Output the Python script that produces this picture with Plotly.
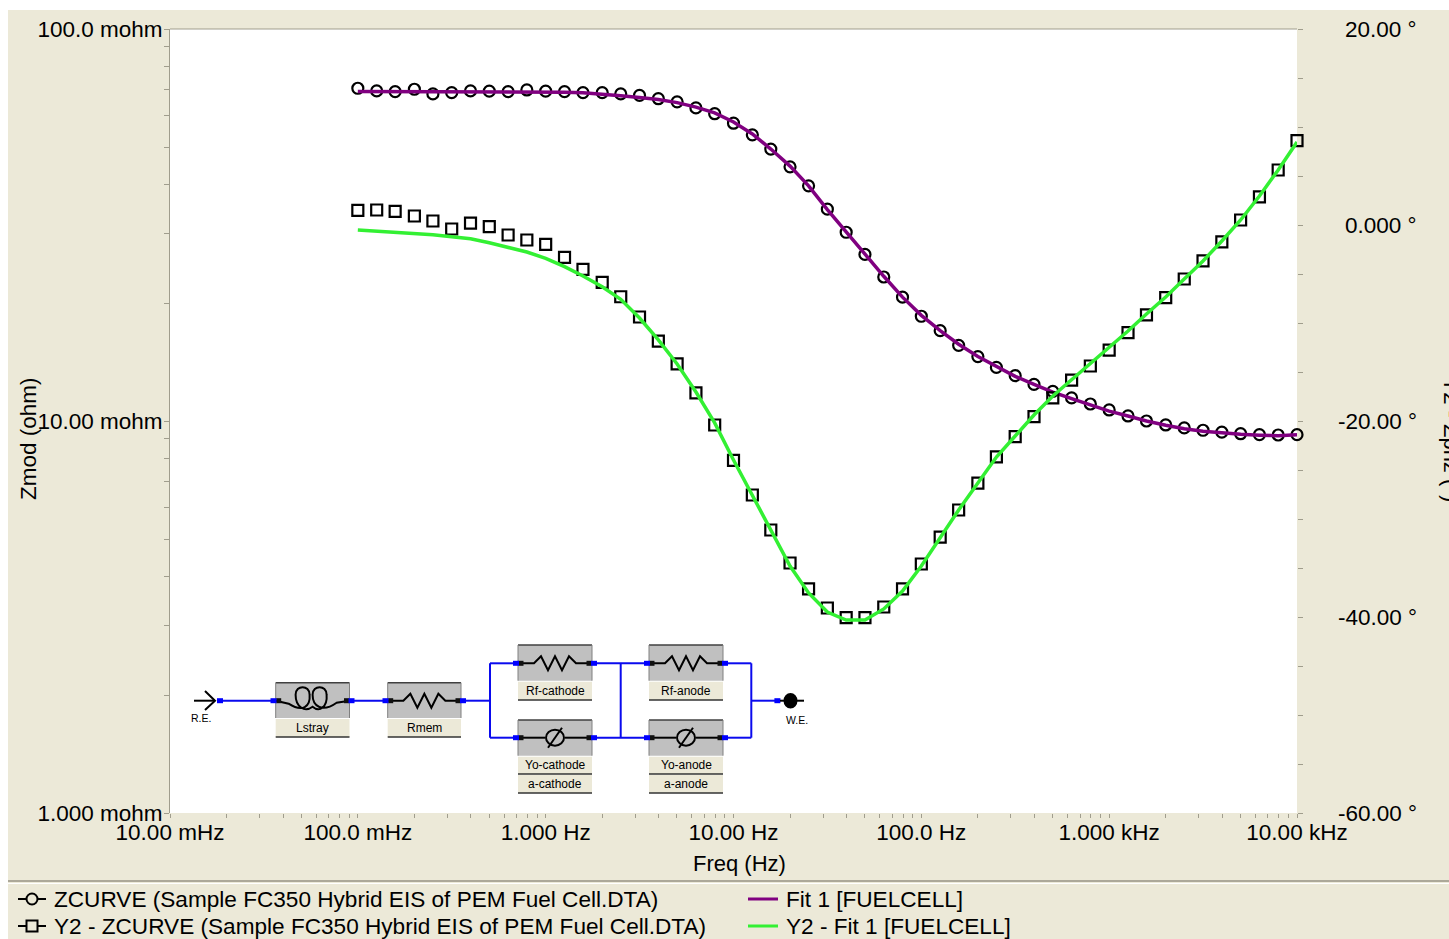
import plotly.graph_objects as go

# ---------- data ----------
freq_hz = [0.1, 0.126, 0.158, 0.2, 0.251, 0.316, 0.398, 0.501, 0.631, 0.794,
           1.0, 1.26, 1.58, 2.0, 2.51, 3.16, 3.98, 5.01, 6.31, 7.94,
           10.0, 12.6, 15.8, 20.0, 25.1, 31.6, 39.8, 50.1, 63.1, 79.4,
           100.0, 126.0, 158.0, 200.0, 251.0, 316.0, 398.0, 501.0, 631.0, 794.0,
           1000.0, 1260.0, 1580.0, 2000.0, 2510.0, 3160.0, 3980.0, 5010.0, 6310.0, 7940.0, 10000.0]
zmod_mohm = [70.6, 69.5, 69.2, 70.2, 68.3, 68.8, 69.5, 69.4, 69.2, 69.9,
             69.4, 69.2, 68.8, 68.8, 68.3, 67.7, 66.4, 65.2, 62.9, 60.8,
             57.5, 53.7, 49.4, 44.5, 39.8, 34.7, 30.3, 26.6, 23.3, 20.7,
             18.5, 17.0, 15.6, 14.6, 13.7, 13.05, 12.4, 11.9, 11.45, 11.05,
             10.67, 10.3, 10.0, 9.77, 9.6, 9.47, 9.37, 9.28, 9.23, 9.21, 9.23]
zphz_deg = [1.5, 1.53, 1.4, 0.92, 0.41, -0.41, 0.2, -0.17, -1.02, -1.53,
            -1.97, -3.3, -4.52, -5.85, -7.32, -9.39, -11.84, -14.18, -17.14, -20.41,
            -24.01, -27.55, -31.12, -34.49, -37.14, -39.08, -40.07, -40.07, -38.98, -37.14,
            -34.59, -31.84, -29.08, -26.33, -23.67, -21.6, -19.56, -17.65, -15.82, -14.39,
            -12.76, -10.99, -9.18, -7.42, -5.51, -3.67, -1.73, 0.51, 2.86, 5.61, 8.6]
fit_zmod_mohm = [69.3, 69.3, 69.3, 69.3, 69.3, 69.3, 69.3, 69.3, 69.3, 69.3,
                 69.1, 69.0, 68.8, 68.3, 67.6, 66.9, 66.1, 64.9, 63.2, 61.1,
                 57.9, 54.0, 49.4, 44.7, 39.8, 34.6, 30.3, 26.6, 23.4, 20.7,
                 18.6, 17.0, 15.7, 14.6, 13.75, 13.0, 12.4, 11.85, 11.4, 11.0,
                 10.6, 10.3, 10.0, 9.75, 9.55, 9.42, 9.32, 9.25, 9.2, 9.17, 9.22]
fit_zphz_deg = [-0.51, -0.61, -0.74, -0.87, -0.99, -1.19, -1.4, -1.81, -2.28, -2.76,
                -3.4, -4.25, -5.2, -6.3, -7.58, -9.49, -11.73, -14.18, -17.04, -20.2,
                -23.98, -27.55, -31.12, -34.8, -37.55, -39.49, -40.31, -40.31, -39.18, -37.35,
                -34.8, -31.94, -29.08, -26.33, -23.67, -21.53, -19.39, -17.45, -15.82, -14.18,
                -12.55, -10.82, -9.08, -7.35, -5.51, -3.67, -1.63, 0.51, 2.96, 5.61, 8.47]

x_major = [0.01, 0.1, 1, 10, 100, 1000, 10000]
x_major_labels = ["10.00 mHz", "100.0 mHz", "1.000 Hz", "10.00 Hz", "100.0 Hz", "1.000 kHz", "10.00 kHz"]
y_major = [1, 10, 100]
y_major_labels = ["1.000 mohm", "10.00 mohm", "100.0 mohm"]
y2_major = [-60, -40, -20, 0, 20]
y2_major_labels = ["-60.00 °", "-40.00 °", "-20.00 °", "0.000 °", "20.00 °"]
y2_ticks = [-60, -55, -50, -45, -40, -35, -30, -25, -20, -15, -10, -5, 0, 5, 10, 15, 20]
mantissas = [1, 2, 3, 4, 5, 6, 7, 8, 9]
legend_names = ["ZCURVE (Sample FC350 Hybrid EIS of PEM Fuel Cell.DTA)", "Fit 1 [FUELCELL]",
                "Y2 - ZCURVE (Sample FC350 Hybrid EIS of PEM Fuel Cell.DTA)", "Y2 - Fit 1 [FUELCELL]"]

# ---------- colours ----------
PANEL = "#ece9d8"
TICK = "#a09d8d"
FONT = "Liberation Sans, Arial, sans-serif"
PURPLE = "#800080"
GREEN = "#33f033"
WIRE = "#0a0aee"
W, H = 1449, 939


def px(x):
    return x / W


def py(y):
    return 1 - y / H


shapes = []
annos = []


def rect(x0, y0, x1, y1, fill, line=None, lw=1, layer="above"):
    shapes.append(dict(type="rect", xref="paper", yref="paper", x0=px(x0), x1=px(x1), y0=py(y0), y1=py(y1),
                       fillcolor=fill, line=dict(color=line or fill, width=lw if line else 0), layer=layer))


def seg(x0, y0, x1, y1, color, lw=2, layer="above"):
    shapes.append(dict(type="line", xref="paper", yref="paper", x0=px(x0), x1=px(x1), y0=py(y0), y1=py(y1),
                       line=dict(color=color, width=lw), layer=layer))


def poly(pts, color="#000000", lw=2):
    d = "M" + " L".join(f"{px(a):.5f},{py(b):.5f}" for a, b in pts)
    shapes.append(dict(type="path", xref="paper", yref="paper", path=d, line=dict(color=color, width=lw)))


def curve(cmds, color="#000000", lw=2):
    d = ""
    for c, pts in cmds:
        d += c + " ".join(f"{px(a):.5f},{py(b):.5f}" for a, b in pts) + " "
    shapes.append(dict(type="path", xref="paper", yref="paper", path=d.strip(), line=dict(color=color, width=lw)))


def text(x, y, s, size=12, anchor="center", color="#000000", angle=0, yanchor="middle"):
    annos.append(dict(xref="paper", yref="paper", x=px(x), y=py(y), text=s, showarrow=False, xanchor=anchor,
                      yanchor=yanchor, textangle=angle, font=dict(family=FONT, size=size, color=color),
                      borderpad=0, borderwidth=0))


# panels
rect(8, 10, 1449, 939, PANEL, layer="below")
rect(170, 29, 1297, 813, "#ffffff", layer="below")
seg(8, 881, 1449, 881, "#aca899", 2, layer="below")
seg(8, 883.5, 1449, 883.5, "#ffffff", 1, layer="below")
seg(170, 29, 1297, 29, TICK, 1, layer="below")

# circuit inset
def label_box(x0, x1, y0, y1, s):
    rect(x0, y0, x1, y1, PANEL)
    seg(x0, y1, x1, y1, "#333333", 1.5)
    text((x0 + x1) / 2, (y0 + y1) / 2, s, 12)


def body(x0, x1, y0, y1):
    rect(x0, y0, x1, y1, "#c0c0c0")
    seg(x0, y0, x1, y0, "#404040", 1.5)
    seg(x0, y0, x0, y1, "#808080", 1)
    seg(x1, y0, x1, y1, "#808080", 1)


def node(x, y):
    rect(x - 3, y - 2.5, x + 3, y + 2.5, "#0000ff")


def pin(x, y):
    rect(x - 2.5, y - 2.5, x + 2.5, y + 2.5, "#101010")


def resistor(x0, x1, yc):
    m = (x0 + x1) / 2
    poly([(x0, yc), (m - 21, yc), (m - 14, yc - 7), (m - 7, yc + 7), (m, yc - 7), (m + 7, yc + 7),
          (m + 14, yc - 7), (m + 21, yc), (x1, yc)])


def cpe(x0, x1, yc):
    m = (x0 + x1) / 2
    seg(x0, yc, m - 10, yc, "#000000", 2)
    seg(m + 10, yc, x1, yc, "#000000", 2)
    shapes.append(dict(type="circle", xref="paper", yref="paper", x0=px(m - 9), x1=px(m + 9), y0=py(yc - 8), y1=py(yc + 8),
                       line=dict(color="#000000", width=2)))
    seg(m - 7, yc + 10, m + 7, yc - 10, "#000000", 2)


def coil(x0, x1, yc):
    m = (x0 + x1) / 2
    curve([("M", [(x0, yc)]), ("L", [(m - 24, yc + 3)]),
           ("C", [(m - 10, yc + 12), (m - 2, yc + 6), (m - 3, yc - 6)]),
           ("C", [(m - 3, yc - 16), (m - 17, yc - 16), (m - 17, yc - 6)]),
           ("C", [(m - 17, yc + 6), (m - 8, yc + 12), (m, yc + 6)]),
           ("C", [(m + 7, yc + 12), (m + 15, yc + 6), (m + 14, yc - 6)]),
           ("C", [(m + 14, yc - 16), (m, yc - 16), (m, yc - 6)]),
           ("C", [(m, yc + 6), (m + 10, yc + 12), (m + 24, yc + 2)]),
           ("L", [(x1, yc)])])


ROW = 700.7
TOP = 663.3
BOT = 737.7
wires = [(220, ROW, 275.7, ROW), (349.5, ROW, 387.7, ROW), (461, ROW, 490, ROW), (490, TOP, 490, BOT),
         (490, TOP, 518, TOP), (490, BOT, 518, BOT), (592, TOP, 649, TOP), (592, BOT, 649, BOT),
         (620.7, TOP, 620.7, BOT), (723, TOP, 751.3, TOP), (723, BOT, 751.3, BOT), (751.3, TOP, 751.3, BOT),
         (751.3, ROW, 777.4, ROW)]
for w in wires:
    seg(*w, WIRE, 2)

body(275.7, 349.5, 682.7, 718)
coil(275.7, 349.5, ROW)
label_box(275.7, 349.5, 719, 737, "Lstray")
body(387.7, 461, 682.7, 718)
resistor(387.7, 461, ROW)
label_box(387.7, 461, 719, 737, "Rmem")
body(518, 592, 645, 680.7)
resistor(518, 592, TOP)
label_box(518, 592, 681.7, 700, "Rf-cathode")
body(649, 723, 645, 680.7)
resistor(649, 723, TOP)
label_box(649, 723, 681.7, 700, "Rf-anode")
body(518, 592, 720, 755.7)
cpe(518, 592, BOT)
label_box(518, 592, 756.7, 774, "Yo-cathode")
label_box(518, 592, 775, 793, "a-cathode")
body(649, 723, 720, 755.7)
cpe(649, 723, BOT)
label_box(649, 723, 756.7, 774, "Yo-anode")
label_box(649, 723, 775, 793, "a-anode")

for x, y in [(275.7, ROW), (349.5, ROW), (387.7, ROW), (461, ROW), (518, TOP), (592, TOP), (649, TOP), (723, TOP),
             (518, BOT), (592, BOT), (649, BOT), (723, BOT)]:
    pin(x + (3 if x in (275.7, 387.7, 518, 649) else -3), y)
for x, y in [(273.5, ROW), (351.5, ROW), (385.5, ROW), (463, ROW), (516, TOP), (594, TOP), (647, TOP), (725, TOP),
             (516, BOT), (594, BOT), (647, BOT), (725, BOT), (220, ROW), (777.4, ROW)]:
    node(x, y)

poly([(194, ROW), (215, ROW)])
poly([(205, 691), (215, ROW), (205, 710)])
text(200.5, 718, "R.E.", 10.5)
seg(780, ROW, 804, ROW, "#000000", 2)
shapes.append(dict(type="circle", xref="paper", yref="paper", x0=px(783.5), x1=px(797.5), y0=py(693), y1=py(708.5),
                   fillcolor="#000000", line=dict(color="#000000", width=0)))
text(797, 720, "W.E.", 10.5)

# legend keys and texts
seg(18, 899, 46, 899, "#000000", 2)
shapes.append(dict(type="circle", xref="paper", yref="paper", x0=px(26.5), x1=px(37.5), y0=py(893.5), y1=py(904.5),
                   fillcolor=PANEL, line=dict(color="#000000", width=2)))
seg(18, 926, 46, 926, "#000000", 2)
rect(26.5, 920.5, 37.5, 931.5, PANEL, line="#000000", lw=2)
seg(748, 899, 778, 899, PURPLE, 3)
seg(748, 926, 778, 926, GREEN, 3)
text(54, 899, legend_names[0], 22.6, anchor="left")
text(786, 899, legend_names[1], 22.6, anchor="left")
text(54, 926, legend_names[2], 22.6, anchor="left")
text(786, 926, legend_names[3], 22.6, anchor="left")

# axis titles and the right-hand labels
text(28, 439, "Zmod (ohm)", 22.5, angle=-90)
text(739.5, 863, "Freq (Hz)", 22)
text(1438, 440, "Y2 - Zphz (°)", 22, angle=90, anchor="left")
for v, s in zip(y2_major, y2_major_labels):
    annos.append(dict(xref="paper", yref="y2", x=px(1419), y=v, text=s, showarrow=False, xanchor="right",
                      yanchor="middle", font=dict(family=FONT, size=22.5, color="#000000")))

fig = go.Figure()
fig.add_trace(go.Scatter(x=freq_hz, y=zmod_mohm, name=legend_names[0], mode="markers", yaxis="y", cliponaxis=False,
                         marker=dict(symbol="circle-open", size=11, color="#000000", line=dict(color="#000000", width=2.2))))
fig.add_trace(go.Scatter(x=freq_hz, y=fit_zmod_mohm, name=legend_names[1], mode="lines", yaxis="y",
                         line=dict(color=PURPLE, width=3.5)))
fig.add_trace(go.Scatter(x=freq_hz, y=zphz_deg, name=legend_names[2], mode="markers", yaxis="y2", cliponaxis=False,
                         marker=dict(symbol="square-open", size=11, color="#000000", line=dict(color="#000000", width=2.2))))
fig.add_trace(go.Scatter(x=freq_hz, y=fit_zphz_deg, name=legend_names[3], mode="lines", yaxis="y2",
                         line=dict(color=GREEN, width=3.5)))

x_ticks = [m * d for d in x_major[:-1] for m in mantissas] + [x_major[-1]]
x_text = [x_major_labels[x_major.index(v)] if v in x_major else "" for v in x_ticks]
y_ticks = [m * d for d in y_major[:-1] for m in mantissas] + [y_major[-1]]
y_text = [y_major_labels[y_major.index(v)] if v in y_major else "" for v in y_ticks]

fig.update_layout(
    width=W, height=H, autosize=False,
    margin=dict(l=0, r=0, t=0, b=0),
    paper_bgcolor="#ffffff", plot_bgcolor="rgba(0,0,0,0)",
    font=dict(family=FONT, size=22.5, color="#000000"),
    xaxis=dict(type="log", range=[-2, 4], domain=[px(170), px(1297)], tickmode="array",
               tickvals=x_ticks, ticktext=x_text, ticks="outside", ticklen=4, tickcolor=TICK, tickwidth=1,
               showgrid=False, zeroline=False, showline=False, ticklabelstandoff=-5, automargin=False,
               anchor="y"),
    yaxis=dict(type="log", range=[0, 2], domain=[py(813), py(29)], tickmode="array",
               tickvals=y_ticks, ticktext=y_text, ticks="outside", ticklen=5, tickcolor=TICK, tickwidth=1,
               showgrid=False, zeroline=False, showline=True, linecolor=TICK, linewidth=1, automargin=False,
               ticklabelstandoff=-3),
    yaxis2=dict(range=[-60, 20], overlaying="y", side="right", tickmode="array", tickvals=y2_ticks,
                ticktext=[""] * len(y2_ticks), ticks="outside", ticklen=5, tickcolor=TICK, tickwidth=1,
                showgrid=False, zeroline=False, showline=False, automargin=False, anchor="x"),
    shapes=shapes, annotations=annos, showlegend=False,
)

fig.write_html("out.html", config=dict(displayModeBar=False),
               post_script="document.body.style.margin='0';document.body.style.overflow='hidden';")
